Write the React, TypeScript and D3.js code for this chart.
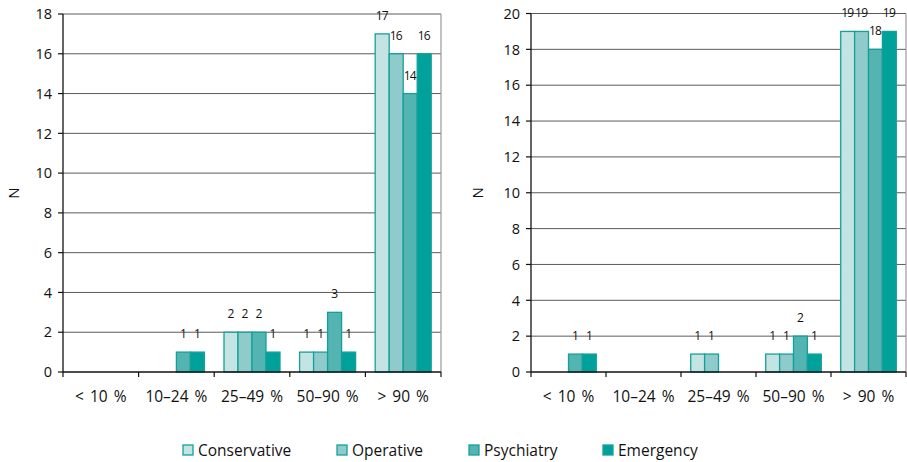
import React from "react";
import * as d3 from "d3";

const categories = ["< 10 %", "10–24 %", "25–49 %", "50–90 %", "> 90 %"];
const seriesNames = ["Conservative", "Operative", "Psychiatry", "Emergency"];
const seriesColors = ["#c4e3e3", "#8ecbca", "#53b4b1", "#00a19b"];

const leftConservative = [0, 0, 2, 1, 17];
const leftOperative = [0, 0, 2, 1, 16];
const leftPsychiatry = [0, 1, 2, 3, 14];
const leftEmergency = [0, 1, 1, 1, 16];

const rightConservative = [0, 0, 1, 1, 19];
const rightOperative = [0, 0, 1, 1, 19];
const rightPsychiatry = [1, 0, 0, 2, 18];
const rightEmergency = [1, 0, 0, 1, 19];

const leftTicks = [0, 2, 4, 6, 8, 10, 12, 14, 16, 18];
const rightTicks = [0, 2, 4, 6, 8, 10, 12, 14, 16, 18, 20];

const FONT = "'Open Sans', 'Noto Sans', sans-serif";

type PanelProps = {
  x0: number;
  x1: number;
  yTop: number;
  yBottom: number;
  yMax: number;
  ticks: number[];
  series: number[][];
  nX: number;
};

function Panel({ x0, x1, yTop, yBottom, yMax, ticks, series, nX }: PanelProps) {
  const x = d3.scaleBand<string>().domain(categories).range([x0, x1]).padding(0);
  const xi = d3
    .scaleBand<string>()
    .domain(seriesNames)
    .range([0, x.bandwidth()])
    .paddingInner(0)
    .paddingOuter(0.7);
  const y = d3.scaleLinear().domain([0, yMax]).range([yBottom, yTop]);
  const midY = (yTop + yBottom) / 2;
  return (
    <g>
      {ticks
        .filter((t) => t > 0)
        .map((t) => (
          <line key={"g" + t} x1={x0} x2={x1} y1={y(t)} y2={y(t)} stroke="#5a5a5a" strokeWidth={1} />
        ))}
      <line x1={x1} x2={x1} y1={yTop} y2={yBottom} stroke="#9a9a9a" strokeWidth={1.2} />
      {series.map((vals, si) =>
        vals.map((v, ci) =>
          v > 0 ? (
            <rect
              key={`b${si}-${ci}`}
              x={(x(categories[ci]) as number) + (xi(seriesNames[si]) as number)}
              y={y(v)}
              width={xi.bandwidth()}
              height={y(0) - y(v)}
              fill={seriesColors[si]}
              stroke="#14a09a"
              strokeWidth={1.3}
            />
          ) : null
        )
      )}
      {series.map((vals, si) =>
        vals.map((v, ci) =>
          v > 0 ? (
            <text
              key={`l${si}-${ci}`}
              x={(x(categories[ci]) as number) + (xi(seriesNames[si]) as number) + xi.bandwidth() / 2}
              y={y(v) - 14}
              textAnchor="middle"
              fontSize={12}
              fontFamily={FONT}
              fill="#111"
            >
              {String(v)
                .split("")
                .map((ch, k) => (
                  <tspan key={k} dx={k > 0 ? -0.8 : 0}>
                    {ch}
                  </tspan>
                ))}
            </text>
          ) : null
        )
      )}
      <line x1={x0} x2={x0} y1={yTop} y2={yBottom} stroke="#111" strokeWidth={1.3} />
      <line x1={x0} x2={x1} y1={yBottom} y2={yBottom} stroke="#111" strokeWidth={1.3} />
      {ticks.map((t) => (
        <g key={"t" + t}>
          <line x1={x0 - 5} x2={x0} y1={y(t)} y2={y(t)} stroke="#111" strokeWidth={1.2} />
          <text
            x={x0 - 11}
            y={y(t)}
            dy="0.36em"
            textAnchor="end"
            fontSize={14.5}
            fontFamily={FONT}
            fill="#111"
          >
            {t}
          </text>
        </g>
      ))}
      {categories.map((c, i) => (
        <line
          key={"xt" + i}
          x1={x(c) as number}
          x2={x(c) as number}
          y1={yBottom}
          y2={yBottom + 5}
          stroke="#111"
          strokeWidth={1.2}
        />
      ))}
      <line x1={x1} x2={x1} y1={yBottom} y2={yBottom + 5} stroke="#111" strokeWidth={1.2} />
      {categories.map((c) => (
        <text
          key={"xl" + c}
          x={(x(c) as number) + x.bandwidth() / 2}
          y={402}
          textAnchor="middle"
          fontSize={15.5}
          wordSpacing={2}
          fontFamily={FONT}
          fill="#111"
        >
          {c}
        </text>
      ))}
      <text
        transform={`translate(${nX},${midY}) rotate(-90)`}
        textAnchor="middle"
        dy="0.36em"
        fontSize={15}
        fontFamily={FONT}
        fill="#111"
      >
        N
      </text>
    </g>
  );
}

export default function App() {
  const legendX = [183, 337, 469, 603];
  return (
    <svg
      width={907}
      height={462}
      style={{ position: "absolute", left: 0, top: 0, background: "#fff" }}
    >
      <rect width={907} height={462} fill="#fff" />
      <Panel
        x0={63}
        x1={441}
        yTop={14}
        yBottom={372}
        yMax={18}
        ticks={leftTicks}
        series={[leftConservative, leftOperative, leftPsychiatry, leftEmergency]}
        nX={14}
      />
      <Panel
        x0={531}
        x1={906}
        yTop={13.5}
        yBottom={372}
        yMax={20}
        ticks={rightTicks}
        series={[rightConservative, rightOperative, rightPsychiatry, rightEmergency]}
        nX={478}
      />
      {seriesNames.map((s, i) => (
        <g key={"lg" + s}>
          <rect
            x={legendX[i]}
            y={445}
            width={10}
            height={10}
            fill={seriesColors[i]}
            stroke="#14a09a"
            strokeWidth={1.3}
          />
          <text
            x={legendX[i] + 15}
            y={450}
            dy="0.36em"
            fontSize={15.5}
            fontFamily={FONT}
            fill="#111"
          >
            {s}
          </text>
        </g>
      ))}
    </svg>
  );
}
